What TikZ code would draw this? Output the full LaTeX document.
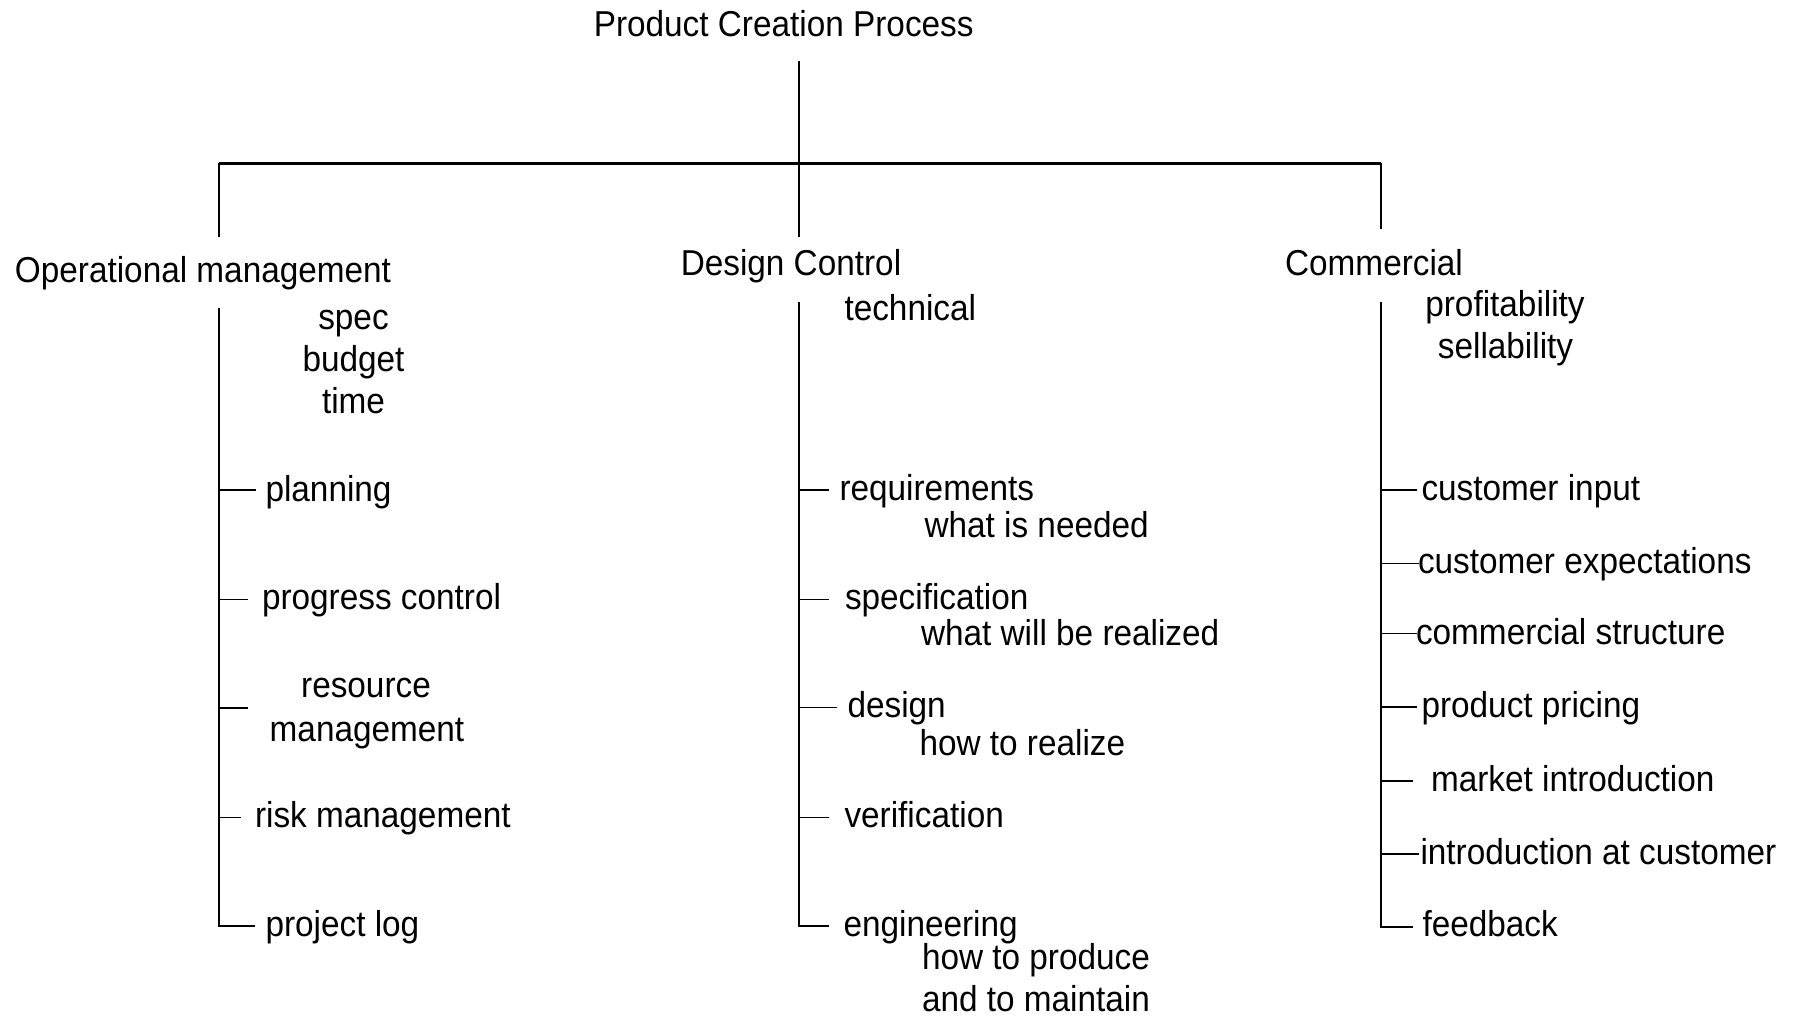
\documentclass[tikz,border=0pt]{standalone}
\usepackage{fontspec}
\setmainfont{Liberation Sans}[FakeStretch=0.926]
\begin{document}
\begin{tikzpicture}[x=1pt,y=-1pt,
  txt/.style={font=\fontsize{36}{42}\selectfont, inner sep=0pt, outer sep=0pt},
  lt/.style={txt, anchor=base west},
  ct/.style={txt, anchor=base},
  trunk/.style={draw=black, line width=2pt},
  bar/.style={draw=black, line width=2.5pt},
  tick/.style={draw=black, line width=1.6pt}]
\useasboundingbox[fill=white] (0,0) rectangle (1795,1016);

% ---------- top level ----------
\node[ct] (title) at (783.7,36.5) {Product Creation Process};
\coordinate (cTop) at (799,61);
\coordinate (cHub) at (799,163.5);
\coordinate (cBot) at (799,236.7);
\coordinate (hubL) at (219,163.5);
\coordinate (hubR) at (1381,163.5);
\coordinate (dropL) at (219,236.7);
\coordinate (dropR) at (1381,229.3);
\draw[trunk] (cTop) -- (cBot);
\draw[bar] (hubL) -- (hubR);
\draw[trunk] (hubL) -- (dropL);
\draw[trunk] (hubR) -- (dropR);

\node[ct] (om) at (203,282) {Operational management};
\node[ct] (dc) at (791,276) {Design Control};
\node[ct] (cm) at (1374,276) {Commercial};

% ---------- Operational management ----------
\coordinate (Ltop) at (219,308);
\node[ct] (spec) at (353.5,329.5) {spec};
\node[ct] (budget) at (353.5,371.2) {budget};
\node[ct] (time) at (353.5,413.8) {time};

\node[lt] (planning) at (265.5,501.2) {planning};
\coordinate (tPlan) at (256,490);
\node[lt] (progress) at (262,609.8) {progress control};
\coordinate (tProg) at (248,599.3);
\node[ct] (resource) at (366,697.8) {resource};
\node[ct] (resmgmt) at (367,741.2) {management};
\coordinate (tRes) at (248,707.7);
\node[lt] (risk) at (255,827.8) {risk management};
\coordinate (tRisk) at (241,817.3);
\node[lt] (projlog) at (265.5,936.5) {project log};
\coordinate (tLog) at (255,926);

\draw[trunk] (Ltop) |- (tLog);
\foreach \t in {tPlan,tProg,tRes,tRisk}
  \draw[tick] (\t -| Ltop) -- (\t);

% ---------- Design Control ----------
\coordinate (Mtop) at (799.3,301.7);
\node[lt] (technical) at (844.5,320.5) {technical};

\node[lt] (req) at (839.5,500.5) {requirements};
\node[lt] (reqsub) at (924.5,537.2) {what is needed};
\coordinate (tReq) at (829.3,490);
\node[lt] (specif) at (845,609.8) {specification};
\node[lt] (specsub) at (921,645.5) {what will be realized};
\coordinate (tSpec) at (829.3,599.3);
\node[lt] (design) at (847.5,717.8) {design};
\node[lt] (designsub) at (919.5,755.5) {how to realize};
\coordinate (tDes) at (836.7,707.3);
\node[lt] (verif) at (844.5,827.8) {verification};
\coordinate (tVer) at (829.3,817.3);
\node[lt] (eng) at (843.5,936.5) {engineering};
\node[lt] (engsub1) at (922,969.8) {how to produce};
\node[lt] (engsub2) at (922,1011.3) {and to maintain};
\coordinate (tEng) at (829.3,926);

\draw[trunk] (Mtop) |- (tEng);
\foreach \t in {tReq,tSpec,tDes,tVer}
  \draw[tick] (\t -| Mtop) -- (\t);

% ---------- Commercial ----------
\coordinate (Rtop) at (1381,301.7);
\node[ct] (profit) at (1505,316.2) {profitability};
\node[ct] (sell) at (1505.5,358.8) {sellability};

\node[lt] (custin) at (1421.5,500.5) {customer input};
\coordinate (tCi) at (1417.3,490);
\node[lt] (custexp) at (1418,573.2) {customer expectations};
\coordinate (tCe) at (1419.3,563.3);
\node[lt] (comstr) at (1416,644.5) {commercial structure};
\coordinate (tCs) at (1417,633.3);
\node[lt] (pricing) at (1421.5,717.8) {product pricing};
\coordinate (tPp) at (1417.3,706.7);
\node[lt] (market) at (1431,791.2) {market introduction};
\coordinate (tMi) at (1413.3,780.7);
\node[lt] (intro) at (1420.5,864.5) {introduction at customer};
\coordinate (tIc) at (1419.3,854);
\node[lt] (feedback) at (1422.5,936.5) {feedback};
\coordinate (tFb) at (1413.3,926.7);

\draw[trunk] (Rtop) |- (tFb);
\foreach \t in {tCi,tCe,tCs,tPp,tMi,tIc}
  \draw[tick] (\t -| Rtop) -- (\t);
\end{tikzpicture}
\end{document}
